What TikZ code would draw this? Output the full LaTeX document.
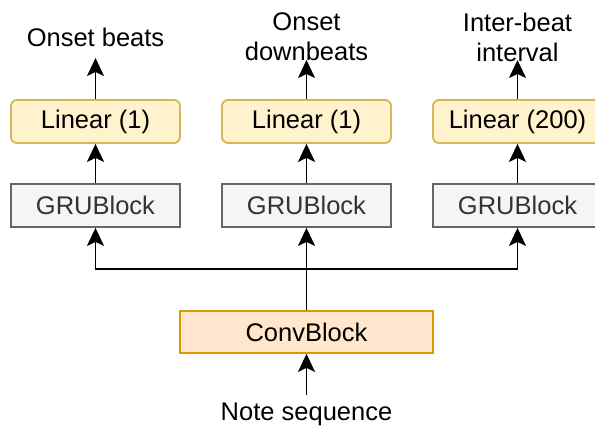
\documentclass[tikz,border=0pt]{standalone}
\usepackage{fontspec}
\setmainfont{Liberation Sans}
\usetikzlibrary{arrows.meta}
\definecolor{linfill}{HTML}{FFF2CC}
\definecolor{linline}{HTML}{D6B656}
\definecolor{grufill}{HTML}{F5F5F5}
\definecolor{gruline}{HTML}{666666}
\definecolor{grutext}{HTML}{333333}
\definecolor{convfill}{HTML}{FFE6CC}
\definecolor{convline}{HTML}{D79B00}
\begin{document}
\begin{tikzpicture}[x=1pt,y=-1pt,
  font=\fontsize{25.5}{30}\selectfont,
  linbox/.style={draw=linline,fill=linfill,line width=1.8pt,rounded corners=6pt,minimum width=169pt,minimum height=43pt,inner sep=0pt},
  grubox/.style={draw=gruline,fill=grufill,line width=1.8pt,minimum width=169pt,minimum height=43pt,inner sep=0pt,text=grutext},
  convbox/.style={draw=convline,fill=convfill,line width=1.8pt,minimum width=253pt,minimum height=42pt,inner sep=0pt},
  lbl/.style={align=center,inner sep=0pt},
  arr/.style={line width=1.9pt,-{Stealth[length=18pt,width=17pt,inset=4pt]}}
]
\useasboundingbox[fill=white] (0,0) rectangle (595,427);
\node[linbox] (lin1) at (95.5,121.5) {Linear (1)};
\node[linbox] (lin2) at (306.5,121.5) {Linear (1)};
\node[linbox] (lin3) at (517.5,121.5) {Linear (200)};
\node[grubox] (gru1) at (95.5,205.5) {GRUBlock};
\node[grubox] (gru2) at (306.5,205.5) {GRUBlock};
\node[grubox] (gru3) at (517.5,205.5) {GRUBlock};
\node[convbox] (conv) at (306.5,332) {ConvBlock};
\node[lbl] (out1) at (95.5,37) {Onset beats};
\node[lbl] (out2) at (306.5,37) {Onset\\downbeats};
\node[lbl] (out3) at (517.5,37) {Inter-beat\\interval};
\node[lbl] (inp) at (306.5,414) {Note sequence};
\coordinate (t1) at (95.5,58);
\coordinate (t2) at (306.5,60);
\coordinate (t3) at (517.5,60);
\coordinate (s0) at (306.5,395);
\coordinate (j) at (306.5,269);
\draw[arr] (lin1.north) -- (t1);
\draw[arr] (lin2.north) -- (t2);
\draw[arr] (lin3.north) -- (t3);
\draw[arr] (gru1) -- (lin1);
\draw[arr] (gru2) -- (lin2);
\draw[arr] (gru3) -- (lin3);
\draw[arr] (conv) -- (gru2);
\draw[arr] (j) -| (gru1);
\draw[arr] (j) -| (gru3);
\draw[arr] (s0) -- (conv);
\end{tikzpicture}
\end{document}
